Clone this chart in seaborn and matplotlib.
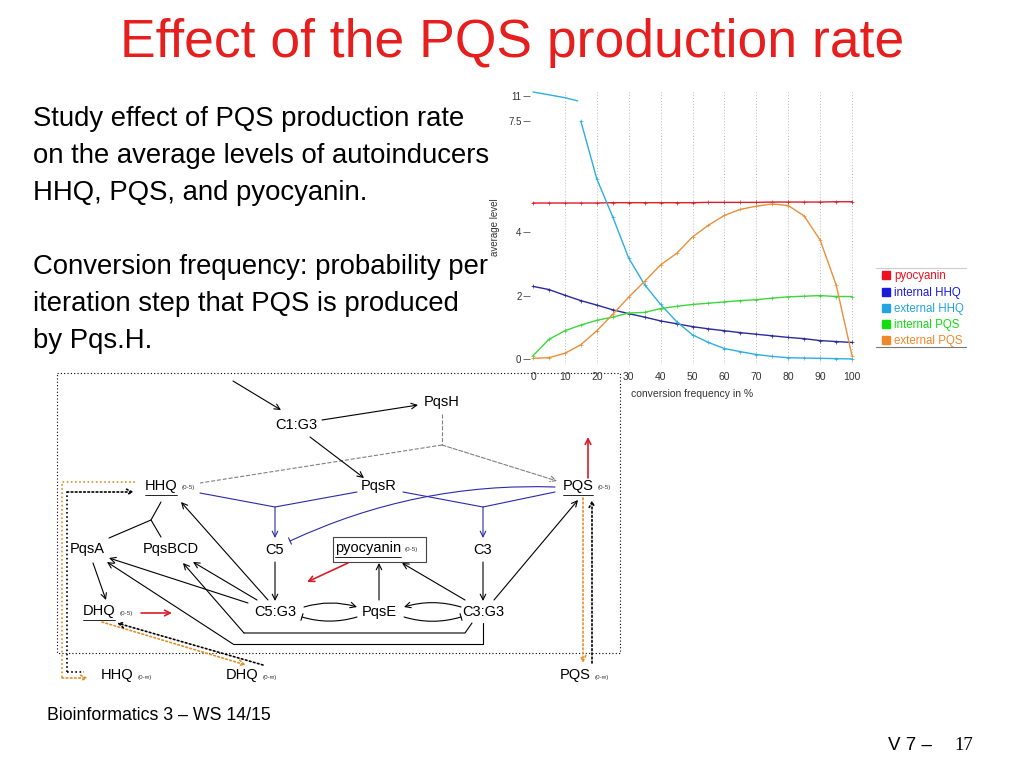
import numpy as np
import pandas as pd
import seaborn as sns
import matplotlib.pyplot as plt
from matplotlib.lines import Line2D
from matplotlib.patches import Rectangle

sns.set_style('white')
plt.rcParams['font.family'] = ['Liberation Sans', 'DejaVu Sans']
plt.rcParams['text.color'] = 'black'

# conversion frequency in %
freq = [0, 5, 10, 15, 20, 25, 30, 35, 40, 45, 50, 55, 60, 65, 70, 75, 80, 85, 90, 95, 100]

pyocyanin = [4.92, 4.92, 4.92, 4.92, 4.92, 4.93, 4.93, 4.93, 4.93, 4.93, 4.93,
             4.94, 4.94, 4.94, 4.94, 4.95, 4.95, 4.95, 4.95, 4.96, 4.96]
internal_hhq = [2.29, 2.19, 2.01, 1.84, 1.70, 1.55, 1.43, 1.32, 1.20, 1.11, 1.02,
                0.95, 0.89, 0.83, 0.78, 0.73, 0.68, 0.64, 0.58, 0.55, 0.52]
external_hhq = [np.nan, np.nan, np.nan, 7.5, 5.68, 4.48, 3.18, 2.34, 1.72, 1.18, 0.76,
                0.52, 0.33, 0.23, 0.14, 0.08, 0.04, 0.03, 0.02, 0.01, 0.0]
internal_pqs = [0.10, 0.62, 0.89, 1.07, 1.22, 1.32, 1.45, 1.47, 1.59, 1.66, 1.72,
                1.76, 1.80, 1.84, 1.87, 1.92, 1.96, 1.98, 2.00, 1.97, 1.97]
external_pqs = [0.02, 0.04, 0.18, 0.45, 0.89, 1.41, 1.95, 2.45, 2.97, 3.33, 3.85,
                4.22, 4.53, 4.72, 4.82, 4.89, 4.84, 4.51, 3.75, 2.34, 0.10]

# upper piece of external HHQ (above the axis break)
ext_hhq_top_x = [0, 5, 10, 14]
ext_hhq_top_y = [11.6, 11.2, 10.8, 10.35]

series = ['pyocyanin', 'internal HHQ', 'external HHQ', 'internal PQS', 'external PQS']
line_colors = {'pyocyanin': '#d8202c', 'internal HHQ': '#2a2a9c', 'external HHQ': '#2eaee0',
               'internal PQS': '#3cd63c', 'external PQS': '#e8903a'}
text_colors = ['#ee1122', '#1a1add', '#22a4e4', '#11dd11', '#f0882a']

y_ticks = [0, 2, 4, 7.5, 11]
y_ticklabels = ['0', '2', '4', '7.5', '11']
x_ticks = list(range(0, 101, 10))

df = pd.DataFrame({'freq': freq * 5,
                   'level': pyocyanin + internal_hhq + external_hhq + internal_pqs + external_pqs,
                   'series': sum([[s] * len(freq) for s in series], [])}).dropna()


def fwd(y):
    y = np.asarray(y, float)
    return np.where(y <= 7.5, y, 7.5 + (y - 7.5) * 0.225)


def inv(v):
    v = np.asarray(v, float)
    return np.where(v <= 7.5, v, 7.5 + (v - 7.5) / 0.225)


fig = plt.figure(figsize=(10.24, 7.68), dpi=100)
renderer = fig.canvas.get_renderer()

# full-slide layer for text and the network sketch
dg = fig.add_axes([0, 0, 1, 1], zorder=0)
dg.set_xlim(0, 1024)
dg.set_ylim(768, 0)
dg.axis('off')

dg.text(512, 43, 'Effect of the PQS production rate', ha='center', va='center',
        fontsize=38.5, color='#e61e1e')
body = ['Study effect of PQS production rate',
        'on the average levels of autoinducers',
        'HHQ, PQS, and pyocyanin.']
body2 = ['Conversion frequency: probability per',
         'iteration step that PQS is produced',
         'by Pqs.H.']
for i, t in enumerate(body):
    dg.text(33, 119 + 37 * i, t, ha='left', va='center', fontsize=19.8)
for i, t in enumerate(body2):
    dg.text(33, 267 + 37 * i, t, ha='left', va='center', fontsize=19.8)

dg.text(47, 715, 'Bioinformatics 3 – WS 14/15', ha='left', va='center', fontsize=12.8)
dg.text(888, 745, 'V 7 –', ha='left', va='center', fontsize=13.5)
dg.text(954, 746, '17', ha='left', va='center', fontsize=13.5, family='Liberation Serif')

# ---- network sketch ----
dg.add_patch(Rectangle((57, 373), 563, 280, fill=False, ls=(0, (1, 2)), lw=0.8, color='black'))


def node(x, y, name, sub=None, underline=False):
    t = dg.text(x, y, name, ha='center', va='center', fontsize=10.5)
    bb = t.get_window_extent(renderer)
    if sub:
        dg.text(bb.x1 + 4, y + 2, sub, ha='left', va='center', fontsize=4.5, color='#333333')
    if underline:
        dg.plot([bb.x0, bb.x1], [y + 9, y + 9], color='black', lw=0.6)
    return t


def arrow(p, q, color='black', ls='-', lw=0.8, style='->', rad=0.0):
    dg.annotate('', xy=q, xytext=p,
                arrowprops=dict(arrowstyle=style, color=color, lw=lw, ls=ls,
                                shrinkA=0, shrinkB=0, connectionstyle=f'arc3,rad={rad}'))


def path(pts, color='black', ls='-', lw=0.8):
    dg.plot([p[0] for p in pts], [p[1] for p in pts], color=color, ls=ls, lw=lw)


node(442, 402, 'PqsH')
node(296, 425, 'C1:G3')
node(161, 486, 'HHQ', '(0-5)', underline=True)
node(379, 486, 'PqsR')
node(578, 486, 'PQS', '(0-5)', underline=True)
node(87, 549, 'PqsA')
node(171, 549, 'PqsBCD')
node(275, 550, 'C5')
node(368, 548, 'pyocyanin', '(0-5)', underline=True)
dg.add_patch(Rectangle((333, 537), 93, 25, fill=False, lw=0.8, color='#444444'))
node(483, 550, 'C3')
node(99, 611, 'DHQ', '(0-5)', underline=True)
node(275, 612, 'C5:G3')
node(379, 612, 'PqsE')
node(483, 612, 'C3:G3')
node(117, 675, 'HHQ', '(0-∞)')
node(242, 675, 'DHQ', '(0-∞)')
node(575, 675, 'PQS', '(0-∞)')

blue = '#2a2aa8'
red = '#d81e2a'
orange = '#e0902a'
dotted = (0, (1, 1.5))

arrow((233, 381), (281, 410))
arrow((322, 420), (418, 405))
arrow((310, 437), (364, 478))
path([(442, 414), (442, 445)], color='grey', ls='--')
path([(442, 445), (200, 483)], color='grey', ls='--')
arrow((442, 445), (557, 481), color='grey', ls='--')
path([(200, 493), (275, 507), (357, 492)], color=blue)
arrow((275, 507), (275, 538), color=blue)
path([(403, 492), (483, 507), (555, 492)], color=blue)
arrow((483, 507), (483, 538), color=blue)
arrow((555, 487), (290, 541), color=blue, style='-[, widthB=0.25, lengthB=0', rad=0.12)
arrow((588, 478), (588, 437), color=red, lw=1.2)
path([(109, 538), (151, 520), (161, 537)])
path([(151, 520), (161, 502)])
arrow((93, 563), (106, 600))
arrow((141, 613), (172, 613), color=red, lw=1.2)
arrow((275, 562), (275, 601))
arrow((483, 562), (483, 601))
arrow((268, 600), (181, 502))
arrow((248, 603), (109, 558))
arrow((257, 600), (193, 562))
arrow((494, 600), (578, 500))
arrow((465, 600), (402, 563))
arrow((379, 600), (379, 563))
arrow((348, 563), (307, 582), color=red, lw=1.2)
arrow((304, 607), (357, 607), rad=-0.15)
arrow((357, 617), (302, 617), style='-[, widthB=0.25, lengthB=0', rad=-0.15)
arrow((461, 607), (404, 607), rad=0.15)
arrow((404, 617), (461, 617), style='-[, widthB=0.25, lengthB=0', rad=0.15)
path([(472, 623), (465, 633), (244, 633)])
arrow((244, 633), (183, 563))
path([(483, 623), (483, 644), (233, 644)])
arrow((233, 644), (107, 562))

path([(135, 482), (62, 482), (62, 678)], color=orange, ls=dotted, lw=1.2)
arrow((62, 678), (88, 678), color=orange, ls=dotted, lw=1.2)
path([(67, 672), (67, 492)], color='black', ls=dotted, lw=1.2)
arrow((67, 492), (134, 492), ls=dotted, lw=1.2)
path([(67, 672), (84, 672)], color='black', ls=dotted, lw=1.2)
arrow((102, 622), (246, 665), color=orange, ls=dotted, lw=1.2)
arrow((263, 665), (117, 623), ls=dotted, lw=1.2)
arrow((583, 498), (583, 663), color=orange, ls=dotted, lw=1.2)
arrow((592, 663), (592, 500), ls=dotted, lw=1.2)

# ---- chart ----
ax = fig.add_axes([0.5174, 0.5264, 0.3178, 0.3557], zorder=2)
ax.set_facecolor('none')
ax.set_yscale('function', functions=(fwd, inv))
ax.set_xlim(-1, 101)
ax.set_ylim(-0.15, 11.8)

for x in x_ticks[1:]:
    ax.axvline(x, color='#bbbbbb', ls=(0, (1, 2)), lw=0.7, zorder=0)

sns.lineplot(data=df, x='freq', y='level', hue='series', hue_order=series,
             palette=line_colors, marker='+', markersize=3, lw=1.0,
             legend=False, ax=ax)
for ln in ax.get_lines():
    if ln.get_marker() == '+':
        ln.set_markeredgecolor(ln.get_color())
        ln.set_markeredgewidth(0.5)
sns.lineplot(x=ext_hhq_top_x, y=ext_hhq_top_y, color=line_colors['external HHQ'],
             lw=1.0, ax=ax)

for s in ax.spines.values():
    s.set_visible(False)
ax.set_yticks(y_ticks)
ax.set_yticklabels(y_ticklabels)
ax.set_xticks(x_ticks)
ax.tick_params(axis='y', left=True, length=5, width=0.6, color='#555555', pad=1,
               labelsize=7, labelcolor='#333333')
ax.tick_params(axis='x', bottom=False, length=0, pad=6, labelsize=7.5, labelcolor='#333333')
ax.set_xlabel('conversion frequency in %', fontsize=7.5, color='#333333', labelpad=5)
ax.set_ylabel('average level', fontsize=7, color='#333333', labelpad=6)

handles = [Line2D([], [], marker='s', ls='none', color=c, markersize=6) for c in text_colors]
leg = fig.legend(handles, series, loc='upper left', bbox_to_anchor=(874 / 1024, 1 - 263 / 768),
                 frameon=False, fontsize=8.3, handlelength=0.8, handletextpad=0.3,
                 borderpad=0.15, labelspacing=0.36)
for t, c in zip(leg.get_texts(), text_colors):
    t.set_color(c)
fig.add_artist(Line2D([876 / 1024, 966 / 1024], [1 - 268 / 768] * 2, color='#cccccc', lw=0.8))
fig.add_artist(Line2D([876 / 1024, 966 / 1024], [1 - 347 / 768] * 2, color='#777777', lw=0.8))

fig.savefig('out.png', dpi=100)
